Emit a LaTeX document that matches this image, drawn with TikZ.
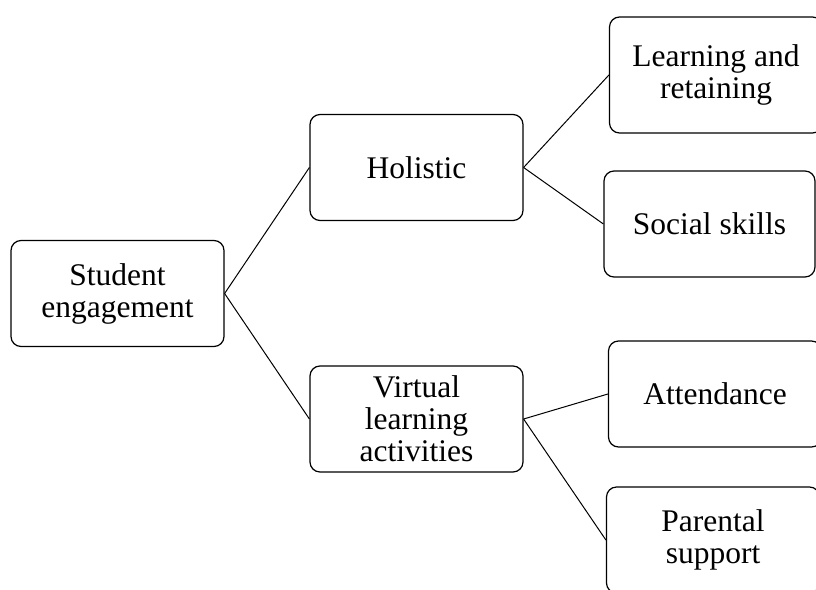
\documentclass[tikz,border=0pt]{standalone}
\usepackage{fontspec}
\setmainfont{Liberation Serif}

\begin{document}
\begin{tikzpicture}[x=1pt,y=-1pt,
  box/.style={draw,rounded corners=10pt,line width=1.2pt,minimum width=213pt,
    minimum height=106pt,align=center,inner sep=0pt,
    font=\fontsize{31.5}{32}\selectfont},
  link/.style={line width=1pt}]
\useasboundingbox (0,0) rectangle (816,589);
\clip (0,0) rectangle (816,589);

\node[box] (student) at (117.5,293.5) {Student\\engagement};

\node[box] (holistic) at (416.5,167.5) {Holistic};
\node[box] (virtual) at (416.5,419) {Virtual\\learning\\activities};

\node[box,minimum height=116pt] (learning) at (716,75) {Learning and\\retaining};
\node[box,minimum width=211pt] (social) at (709.5,224) {Social skills};
\node[box] (attendance) at (715,394) {Attendance};
\node[box] (parental) at (713,540) {Parental\\support};

\draw[link] (student.east) -- (holistic.west);
\draw[link] (student.east) -- (virtual.west);
\draw[link] (holistic.east) -- (learning.west);
\draw[link] (holistic.east) -- (social.west);
\draw[link] (virtual.east) -- (attendance.west);
\draw[link] (virtual.east) -- (parental.west);

\end{tikzpicture}
\end{document}
